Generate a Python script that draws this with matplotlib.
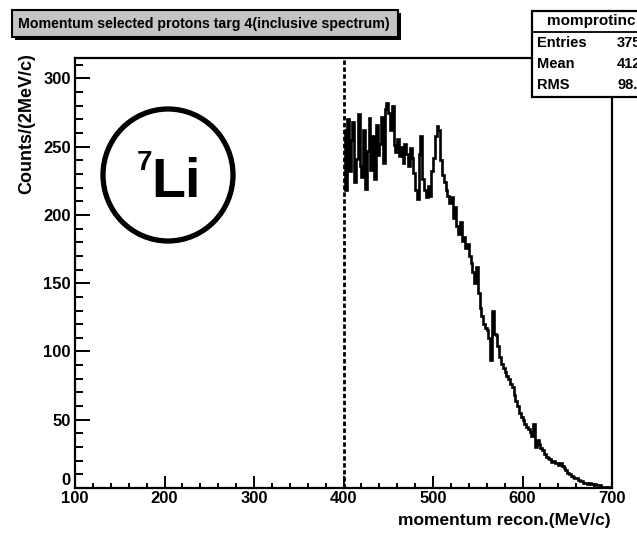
import matplotlib
matplotlib.use('Agg')
import matplotlib.pyplot as plt
import matplotlib.patches as mpatches
import numpy as np

# histogram: momentum (MeV/c), 2 MeV/c bins from 400 to 700
bin_lo = 400
bin_hi = 700
bin_width = 2
counts = [
    262, 218, 270, 232, 255, 268, 224, 241, 274, 236,
    228, 262, 219, 247, 271, 233, 258, 226, 266, 244,
    252, 272, 238, 278, 282, 275, 262, 280, 251, 246,
    256, 243, 250, 238, 252, 245, 236, 249, 242, 231,
    218, 212, 245, 258, 226, 218, 213, 221, 214, 232,
    242, 258, 265, 262, 240, 229, 224, 218, 214, 209,
    213, 198, 206, 192, 186, 195, 181, 184, 176, 179,
    170, 165, 158, 150, 162, 143, 132, 126, 120, 117,
    116, 110, 94, 130, 113, 112, 104, 96, 91, 88,
    85, 82, 80, 76, 74, 68, 64, 60, 55, 52,
    50, 47, 45, 43, 41, 38, 47, 30, 35, 32,
    29, 28, 25, 23, 22, 21, 19, 20, 18, 18,
    17, 18, 16, 15, 13, 11, 10, 9, 8, 7,
    7, 6, 5, 5, 4, 4, 3, 4, 3, 3,
    3, 2, 2, 2, 1, 1, 1, 0, 1, 0,
]
cut = 400

title = 'Momentum selected protons targ 4(inclusive spectrum)'
hist_name = 'momprotinc'
stat_names = ['Entries', 'Mean', 'RMS']
stat_values = ['37542', '412.3', '98.41']
xlabel = 'momentum recon.(MeV/c)'
ylabel = 'Counts/(2MeV/c)'

W, H = 637, 542
plt.rcParams['font.family'] = ['Liberation Sans', 'DejaVu Sans']
plt.rcParams['font.weight'] = 'bold'

fig = plt.figure(figsize=(W / 100, H / 100), dpi=100)

def fx(px):
    return px / W

def fy(py):
    return 1 - py / H

ax = fig.add_axes([fx(75), fy(488), fx(612) - fx(75), fy(58) - fy(488)])

edges = np.arange(bin_lo, bin_hi + bin_width, bin_width)
ax.stairs(counts, edges, color='black', lw=1.9, baseline=None)
ax.axvline(cut, color='black', lw=2, ls=(0, (1.6, 0.9)))

ax.set_xlim(100, 700)
ax.set_ylim(0, 315)
ax.set_xticks(np.arange(100, 701, 100))
ax.set_xticks(np.arange(100, 701, 20), minor=True)
ax.set_yticks(np.arange(0, 301, 50))
ax.set_yticks(np.arange(0, 311, 10), minor=True)
ax.tick_params(axis='x', which='major', direction='in', length=8.5, width=1.4, pad=2, labelsize=12)
ax.tick_params(axis='x', which='minor', direction='in', length=3.6, width=1.4)
ax.tick_params(axis='y', which='major', direction='in', length=11, width=1.4, pad=3, labelsize=12)
ax.tick_params(axis='y', which='minor', direction='in', length=5.5, width=1.4)
for lab in ax.get_xticklabels() + ax.get_yticklabels():
    lab.set_fontweight('bold')
# the "0" sits just above the x axis, as ROOT puts it
ax.yaxis.get_major_ticks()[0].label1.set_verticalalignment('bottom')
for s in ax.spines.values():
    s.set_linewidth(1.6)

fig.text(fx(611), fy(521), xlabel, ha='right', va='center', fontsize=12.5, fontweight='bold')
fig.text(fx(27), fy(53), ylabel, ha='center', va='top', rotation=90, fontsize=13, fontweight='bold')

# 7Li label with circle
fig.patches.append(mpatches.Ellipse((fx(168), fy(175)), 130 / W, 132 / H, transform=fig.transFigure,
                                    fill=False, edgecolor='black', lw=3.8))
fig.text(fx(151), fy(197), 'Li', ha='left', va='baseline', fontsize=40, fontweight='bold')
fig.text(fx(137), fy(170), '7', ha='left', va='baseline', fontsize=20, fontweight='bold')

# title box with shadow
fig.patches.append(mpatches.Rectangle((fx(15), fy(40)), fx(386), 27 / H, transform=fig.transFigure,
                                      facecolor='black', edgecolor='black', lw=0))
fig.patches.append(mpatches.Rectangle((fx(12), fy(37)), fx(386), 27 / H, transform=fig.transFigure,
                                      facecolor='#c4c4c4', edgecolor='black', lw=1.5))
fig.text(fx(204), fy(24), title, ha='center', va='center', fontsize=10.2, fontweight='bold')

# stats box (cut by the picture edge)
fig.patches.append(mpatches.Rectangle((fx(532), fy(97)), fx(200), 86 / H, transform=fig.transFigure,
                                      facecolor='white', edgecolor='black', lw=1.6, zorder=5))
fig.lines.append(plt.Line2D([fx(532), fx(700)], [fy(32), fy(32)], transform=fig.transFigure,
                            color='black', lw=1.3, zorder=6))
fig.text(fx(547), fy(21), hist_name, ha='left', va='center', fontsize=11, fontweight='bold', zorder=7)
for i, (name, val) in enumerate(zip(stat_names, stat_values)):
    y = 43 + i * 21
    fig.text(fx(537), fy(y), name, ha='left', va='center', fontsize=10.5, fontweight='bold', zorder=7)
    fig.text(fx(617), fy(y), val, ha='left', va='center', fontsize=10.5, fontweight='bold', zorder=7)

fig.savefig('out.png', dpi=100)
